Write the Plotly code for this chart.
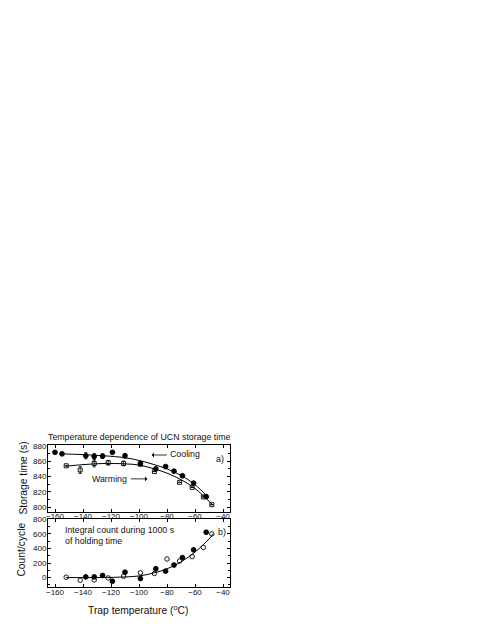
import plotly.graph_objects as go

# top panel: storage time, cooling (filled) and warming (open)
cool_temp = [-160, -155, -138, -132, -126, -119, -110, -99, -88, -81, -75, -69, -61, -52]
cool_tau = [871.5, 869.5, 867, 866, 866.5, 871.5, 867, 857, 850, 853, 847, 841, 831.5, 814]
cool_err = [0, 0, 4, 4, 3, 0, 3, 0, 0, 0, 0, 0, 0, 0]
warm_temp = [-152, -142, -132, -122, -111, -99, -89, -71, -62, -54, -48]
warm_tau = [854, 848.5, 857, 858, 857, 856, 846.5, 832.5, 826, 813.5, 803.5]
warm_err = [0, 4.5, 4.5, 3, 3, 0, 0, 0, 0, 0, 0]

# fit curves
cool_fit_t = [-155, -140, -125, -110, -100, -90, -80, -70, -60, -50]
cool_fit = [869.5, 868.5, 867, 864.5, 861, 856, 850, 841.5, 829.5, 812]
warm_fit_t = [-152, -140, -125, -110, -100, -90, -80, -70, -60, -50, -47]
warm_fit = [853.5, 855.5, 857, 856.5, 855, 850.5, 844.5, 836, 824.5, 808, 802.5]

# bottom panel: integral count
cnt_cool_t = [-138, -132, -126, -119, -110, -99, -88, -81, -75, -69, -61, -52]
cnt_cool = [9, 9, 28, -51, 74, -14, 121, 88, 172, 274, 381, 623]
cnt_warm_t = [-152, -142, -132, -122, -111, -99, -89, -80, -71, -62, -54, -48]
cnt_warm = [5, -37, -33, -5, 19, 65, 56, 255, 228, 288, 414, 600]
cnt_fit_t = [-152, -130, -120, -110, -100, -90, -80, -70, -60, -50, -47]
cnt_fit = [0, 0, 2, 8, 22, 60, 120, 215, 350, 530, 600]

x_ticks = [-160, -140, -120, -100, -80, -60, -40]
tau_ticks = [800, 820, 840, 860, 880]
cnt_ticks = [0, 200, 400, 600, 800]

FONT = "Liberation Sans, Arial, sans-serif"
OFF = 8                      # page body margin
W, H = 485 - OFF, 627 - OFF
# plot area in page pixels
L, R, T, B = 47.5, 230, 445, 587
TOP_B, BOT_T = 512, 519      # bottom of panel a), top of panel b)

fig = go.Figure()

def line(x, y, xa, ya):
    fig.add_trace(go.Scatter(x=x, y=y, mode="lines", xaxis=xa, yaxis=ya,
                             line=dict(color="black", width=1, shape="spline", smoothing=1),
                             showlegend=False, hoverinfo="skip"))

def pts(x, y, xa, ya, symbol, size, err=None):
    fig.add_trace(go.Scatter(x=x, y=y, mode="markers", xaxis=xa, yaxis=ya,
                             marker=dict(symbol=symbol, size=size, color="black",
                                         line=dict(color="black", width=0.9)),
                             error_y=dict(type="data", array=err, visible=err is not None,
                                          color="black", thickness=0.8, width=1.5),
                             showlegend=False))

line(cool_fit_t, cool_fit, "x", "y")
line(warm_fit_t, warm_fit, "x", "y")
pts(warm_temp, warm_tau, "x", "y", "square-open", 4, warm_err)
pts(cool_temp, cool_tau, "x", "y", "circle", 4.8, cool_err)

line(cnt_fit_t, cnt_fit, "x2", "y2")
pts(cnt_warm_t, cnt_warm, "x2", "y2", "circle-open", 4.5)
pts(cnt_cool_t, cnt_cool, "x2", "y2", "circle", 4.8)

axis = dict(showgrid=False, zeroline=False, showline=True, linecolor="black", linewidth=1,
            mirror="ticks", ticks="inside", ticklen=3, tickcolor="black", tickwidth=1,
            tickfont=dict(family=FONT, size=8, color="#111"),
            minor=dict(ticks="inside", ticklen=2, tickcolor="black", nticks=2))

ph = B - T
fig.update_layout(
    width=W, height=H,
    margin=dict(l=L - OFF, r=W - (R - OFF), t=T - OFF, b=H - (B - OFF), autoexpand=False),
    paper_bgcolor="white", plot_bgcolor="white",
    xaxis=dict(axis, range=[-165, -35], tickvals=x_ticks, anchor="y", ticklabelstandoff=-4),
    yaxis=dict(axis, range=[794, 881], tickvals=tau_ticks,
               domain=[(B - TOP_B) / ph, 1], anchor="x", ticklabelstandoff=-1),
    xaxis2=dict(axis, range=[-165, -35], tickvals=x_ticks, anchor="y2", ticklabelstandoff=-3),
    yaxis2=dict(axis, range=[-130, 805], tickvals=cnt_ticks,
                domain=[0, (B - BOT_T) / ph], anchor="x2", ticklabelstandoff=-1),
)

def px_x(p):
    return (p - L) / (R - L)

def px_y(p):
    return (B - p) / ph

txt = dict(family=FONT, color="#111")
paper = dict(xref="paper", yref="paper", showarrow=False, xanchor="center", yanchor="middle")
ann = [
    dict(paper, text="Temperature dependence of UCN storage time", x=px_x(139), y=px_y(437),
         font=dict(txt, size=8.8)),
    dict(paper, text="Storage time (s)", x=px_x(22), y=px_y(478), textangle=-90,
         font=dict(txt, size=10.3)),
    dict(paper, text="Count/cycle", x=px_x(20), y=px_y(550), textangle=-90,
         font=dict(txt, size=10.3)),
    dict(paper, text="Trap temperature (<sup>o</sup>C)", x=px_x(138), y=px_y(609),
         font=dict(txt, size=10.3)),
    dict(text="Cooling", x=-67, y=869, xref="x", yref="y", showarrow=False,
         font=dict(txt, size=8.8)),
    dict(text="Warming", x=-121, y=837, xref="x", yref="y", showarrow=False,
         font=dict(txt, size=8.8)),
    dict(text="a)", x=-42, y=862.5, xref="x", yref="y", showarrow=False,
         font=dict(txt, size=8.8)),
    dict(text="Integral count during 1000 s<br>of holding time", x=-154, y=580,
         xref="x2", yref="y2", showarrow=False, align="left", xanchor="left",
         font=dict(txt, size=8.8)),
    dict(text="b)", x=-41, y=625, xref="x2", yref="y2", showarrow=False,
         font=dict(txt, size=8.8)),
    # arrows
    dict(x=-91, y=868, ax=-79, ay=868, xref="x", yref="y", axref="x", ayref="y",
         text="", showarrow=True, arrowhead=1, arrowsize=1, arrowwidth=0.8, arrowcolor="black"),
    dict(x=-94, y=837, ax=-107, ay=837, xref="x", yref="y", axref="x", ayref="y",
         text="", showarrow=True, arrowhead=1, arrowsize=1, arrowwidth=0.8, arrowcolor="black"),
]
fig.update_layout(annotations=ann)

fig.write_html("out.html")
